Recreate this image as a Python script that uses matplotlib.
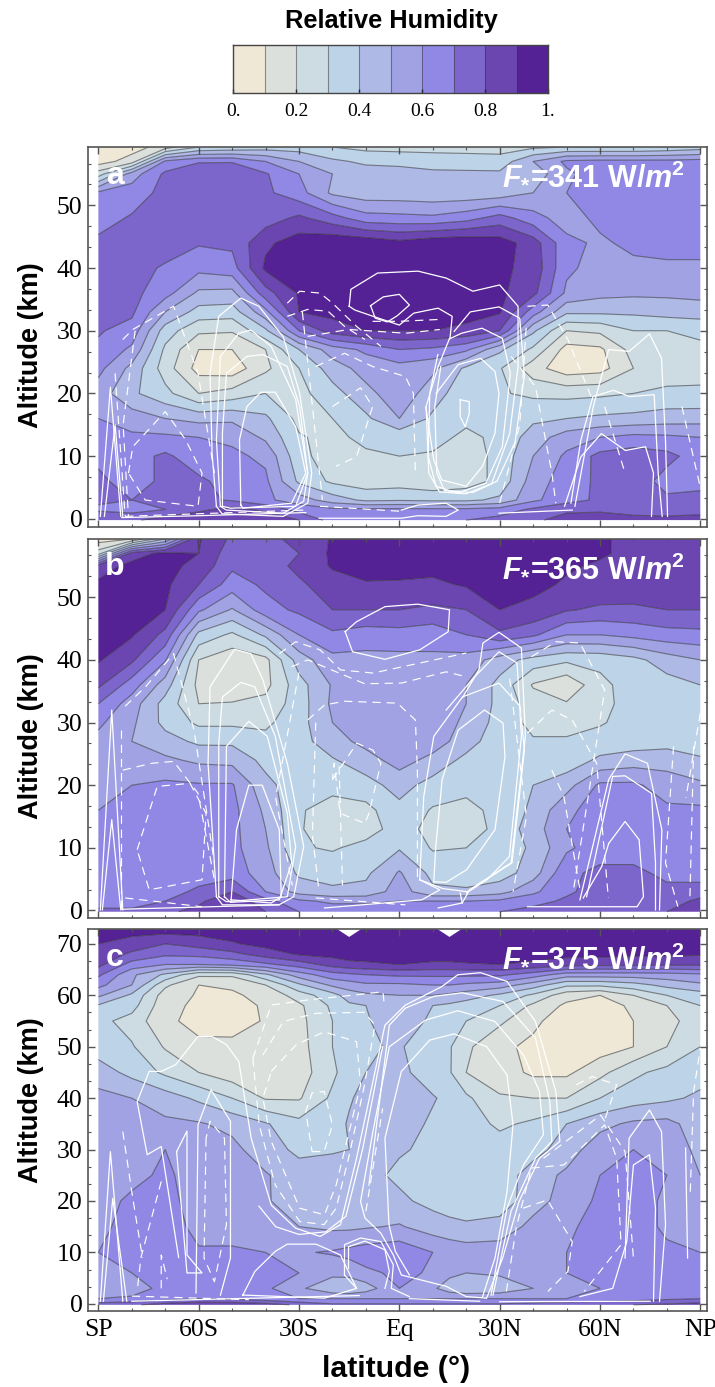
import numpy as np
import matplotlib
matplotlib.use("Agg")
import matplotlib.pyplot as plt
from matplotlib.colors import ListedColormap, BoundaryNorm

plt.rcParams['mathtext.fontset'] = 'custom'
plt.rcParams['mathtext.bfit'] = 'Liberation Sans:italic:bold'
plt.rcParams['mathtext.bf'] = 'Liberation Sans:bold'
plt.rcParams['mathtext.rm'] = 'Liberation Sans:bold'

LEVELS = [0, .1, .2, .3, .4, .5, .6, .7, .8, .9, 1.0]
COLORS = ['#F0E8D6', '#DCE0DD', '#CDDCE3', '#BDD3E8', '#AFB9E6', '#A0A2E4', '#9088E4', '#7C66CC', '#6B46B0', '#552295']
CBAR_TICKS = [0, .2, .4, .6, .8, 1.0]
CBAR_LABELS = ['0.', '0.2', '0.4', '0.6', '0.8', '1.']
XTICKS = [-90, -60, -30, 0, 30, 60, 90]
XLABELS = ['SP', '60S', '30S', 'Eq', '30N', '60N', 'NP']
TITLES = ['341', '365', '375']
LETTERS = ['a', 'b', 'c']

LAT = [-90, -80, -70, -60, -50, -40, -30, -20, -10, 0, 10, 20, 30, 40, 50, 60, 70, 80, 90]
LAT_C = [-90, -80, -70, -60, -50, -40, -30, -20, -15, -10, 0, 10, 15, 20, 30, 40, 50, 60, 70, 80, 90]
ALT_A = [59.3, 57, 55, 52, 48, 44, 40, 36, 33, 30, 27, 24, 20, 16, 13, 10, 6, 3, 1.5, -0.2]
HUM_A = [
 [5,5,15,30,32,35,35,30,27,26,26,26,26,28,30,30,30,32,35],
 [5,15,62,69,69,60,50,42,38,38,36,35,34,50,62,63,63,63,64],
 [25,55,72,78,80,71,60,50,45,43,42,42,42,44,58,65,65,65,65],
 [62,65,73,76,75,72,64,48,44,44,43,43,44,50,60,64,65,65,65],
 [66,71,75,76,76,75,82,74,64,63,62,66,74,64,55,63,65,66,66],
 [72,73,74,71,72,88,95,98,97,93,97,98,95,85,63,58,63,64,64],
 [74,73,69,63,66,92,93,93,93,93,92,92,92,87,62,56,57,58,58],
 [78,73,64,48,47,76,91,93,93,93,93,92,92,83,58,53,52,52,53],
 [79,72,50,36,35,57,90,93,93,93,93,93,91,65,42,42,42,44,45],
 [71,66,35,22,21,38,70,85,90,90,90,88,80,42,20,22,30,30,32],
 [68,58,28,10,10,20,40,55,62,70,68,62,42,28,6,8,24,27,28],
 [63,47,25,6,4,18,30,45,54,56,52,38,31,14,4,6,20,25,28],
 [55,42,33,20,24,30,27,36,47,56,45,33,31,28,27,28,30,32,31],
 [60,55,50,47,48,42,27,30,38,50,38,32,32,38,40,42,43,45,46],
 [68,62,62,60,58,48,31,27,33,33,33,28,32,45,55,60,63,62,60],
 [68,66,72,64,62,58,33,25,28,30,29,25,33,50,62,73,76,73,65],
 [72,66,72,72,66,62,38,28,24,25,22,25,33,55,65,72,76,66,68],
 [72,70,72,72,69,62,55,45,38,39,38,38,42,58,66,72,74,72,72],
 [68,66,70,78,83,78,66,62,62,62,62,62,64,72,78,78,74,72,72],
 [80,78,85,87,88,86,80,66,66,66,66,70,74,78,84,86,85,85,88],
]
ALT_B = [59.3, 57, 55, 52, 48, 44, 40, 36, 33, 30, 27, 24, 20, 16, 13, 10, 6, 3, 1.5, -0.2]
HUM_B = [
 [5,10,40,91,78,78,82,91,93,93,93,93,93,92,91,91,88,85,85],
 [25,85,93,90,74,75,80,92,94,94,94,94,94,93,92,91,88,86,86],
 [85,93,93,87,72,74,83,91,94,93,93,92,93,93,91,89,88,86,85],
 [92,94,92,80,65,72,78,86,89,89,88,91,93,92,89,88,87,85,84],
 [93,93,90,62,49,66,72,80,80,80,78,80,90,88,81,78,78,80,80],
 [92,91,77,37,28,42,60,68,65,66,64,70,78,72,60,60,63,66,67],
 [91,82,61,20,13,17,45,57,57,57,58,56,45,36,32,33,37,45,50],
 [82,65,45,17,10,17,36,51,54,53,56,50,37,19,12,27,35,36,40],
 [70,55,36,20,21,23,35,52,55,55,55,50,37,25,21,27,34,35,36],
 [62,52,37,28,28,28,36,50,55,56,56,48,36,27,27,29,34,35,35],
 [57,50,44,38,38,33,36,46,53,55,55,45,33,31,31,34,35,36,36],
 [55,52,52,48,47,37,36,39,46,54,47,37,35,33,34,42,45,46,41],
 [58,60,62,61,61,43,34,33,36,44,36,33,35,40,46,62,62,55,52],
 [60,62,63,63,63,48,31,26,27,37,29,27,33,42,58,64,66,62,62],
 [62,63,63,63,63,50,31,24,26,34,27,25,33,45,60,65,66,64,64],
 [64,63,64,63,63,52,31,29,33,39,29,30,33,42,58,66,66,66,62],
 [64,63,65,65,65,55,38,36,38,51,37,33,35,45,68,72,72,68,64],
 [62,62,66,72,80,60,46,42,43,55,42,42,46,58,68,75,72,72,76],
 [66,66,70,78,88,74,62,58,58,60,60,60,62,66,72,78,74,76,82],
 [72,72,78,83,85,80,70,66,66,66,68,68,70,74,76,78,78,80,85],
]
ALT_C = [72.9, 70, 68, 66, 64, 62, 60, 58, 55, 50, 45, 40, 35, 30, 25, 20, 15, 10, 6, 3, 1, -0.2]
HUM_C = [
 [93,94,95,95,95,95,95,97,108,97,95,97,108,97,96,95,95,95,95,95,95],
 [90,86,80,84,89,93,95,96,93,96,95,96,93,96,96,96,96,96,96,96,96],
 [87,78,72,73,77,85,91,93,95,95,95,95,95,95,95,94,93,93,92,92,91],
 [83,66,60,60,63,68,75,84,87,88,90,88,88,89,90,88,84,83,83,82,82],
 [72,52,38,22,22,38,55,66,68,70,72,72,72,72,72,65,55,55,55,56,58],
 [63,50,22,10,11,20,38,52,55,58,58,60,60,58,55,45,32,32,36,43,48],
 [52,38,15,9,9,12,25,36,45,48,50,50,48,45,38,28,14,10,20,30,35],
 [39,34,13,8,7,11,18,32,38,40,41,40,38,35,30,18,8,5,12,20,30],
 [33,26,12,7,5,11,17,30,36,39,46,38,36,30,22,12,5,5,10,17,25],
 [35,31,19,12,13,13,16,30,35,39,41,34,31,22,12,8,5,5,10,20,30],
 [45,37,28,20,14,11,15,28,35,40,43,34,31,20,15,8,8,17,28,33,36],
 [53,50,45,38,30,19,19,32,39,43,45,41,37,32,21,20,20,30,35,38,42],
 [54,53,52,51,47,41,33,36,41,44,46,38,36,35,28,32,40,47,52,53,45],
 [57,56,60,55,53,44,38,39,40,47,41,38,36,35,35,36,45,56,60,57,47],
 [55,57,62,55,53,51,44,45,46,43,38,36,34,33,34,45,52,60,62,60,50],
 [56,62,63,56,54,51,45,45,46,47,42,37,35,33,34,46,54,62,65,58,53],
 [58,63,65,57,54,52,50,48,48,49,51,45,43,42,44,53,58,64,65,58,55],
 [60,66,67,61,62,60,59,61,63,65,67,60,57,55,55,57,60,66,65,62,60],
 [60,60,66,67,66,65,60,53,54,58,62,59,53,50,52,60,60,64,65,63,62],
 [55,54,64,66,65,62,52,42,40,45,60,52,44,40,42,50,56,60,62,62,62],
 [60,62,65,70,68,64,60,60,60,60,60,60,60,60,60,60,60,62,65,68,70],
 [75,78,85,88,88,85,78,72,72,72,72,72,72,72,72,75,78,80,80,82,85],
]

A_SOLID = [
 [(-54.7,2),(-56,10.5),(-56.6,23.2),(-54,32.3),(-47.4,35.2),(-42,33.9),(-34.7,29),(-29.8,20),(-26.2,7.3),(-27.4,2.5),(-34.7,.4),(-53,.8),(-54.7,2)],
 [(-53.5,2),(-54.7,12.6),(-53.5,25.9),(-48,29.6),(-44.4,30.1),(-38.3,27.5),(-31,19),(-27.4,7.3),(-28.6,2.8),(-34.7,.9),(-51.7,1.4),(-53.5,2)],
 [(-52.9,2),(-52.9,13.7),(-51.7,23.2),(-45.6,25.9),(-40.8,26.2),(-33.5,24.3),(-29.8,17.9),(-27.4,7.3),(-31,2),(-50.5,1.7),(-52.9,2)],
 [(-47.4,2.2),(-47.8,12.6),(-45.6,17.9),(-41.4,20.2),(-37.1,20.2),(-31,14.7),(-28,7.3),(-32.2,2.5),(-46.8,1.7),(-47.4,2.2)],
 [(-15,33.9),(-14.5,36.6),(-6.5,39.2),(5.6,39.5),(14,38.4),(22,36.3),(30,37.3),(35.5,33.9),(35.5,24.3),(33,13.6),(27.6,5.6),(20,4),(12,4.3),(8.8,7.3),(8,17.9),(11.6,24.3),(15.2,29),(15.8,32.3),(11.6,33.6),(4.3,32.8),(0,30.9),(-7.3,32.2),(-13.3,33.3),(-15,33.9)],
 [(-8.6,34),(-4.8,35.4),(0,35.8),(3,34.1),(-0.6,32.4),(-3.6,31.4),(-7.2,32),(-8.6,34)],
 [(18.2,19),(20.9,18.7),(20.9,16.8),(19.7,14.7),(18.2,16.3),(18.2,19)],
 [(16.4,29.9),(21.2,33),(29.8,33.8),(36,32),(37.4,22.9),(34.6,12.2),(29.2,6),(22,4.2),(13.5,4.5),(11.2,7.3),(10.6,17.9),(12.4,24.3)],
 [(15,28.7),(18.6,29.6),(24.7,30.4),(30.8,28.8),(33.2,23.2),(30.8,11.5),(25.9,5.7),(17.4,4.1),(11,5.2),(8.6,10),(9.1,20),(11.5,26.2)],
 [(11,20),(17.6,24.6),(24.3,25.6),(28.6,23.5),(29.8,20),(28.6,13.7),(24.9,8.4),(20,5.2),(12.7,6.2),(10.3,9.4),(7.9,17.9)],
 [(0.6,1.4),(5.5,2.2),(14,2.5),(17.6,1.4),(14,.4),(5.5,.5),(0.6,.1),(-24,.1)],
 [(52.5,2),(58,17.9),(62.6,27),(68.7,26.7),(74.8,29.5),(78.4,25.6),(79.6,12.3),(80.2,.4)],
 [(51.3,2.5),(54.3,12.6),(57.9,19.5),(64,20.5),(68.9,19.5),(76.2,19.8),(77.4,7.3),(78.6,.4)],
 [(49.4,2),(54.3,9.9),(60.4,13.6),(67.6,10.9),(73.6,11.5),(76,7.3),(75.4,.4)],
 [(29.8,.9),(51.7,1.4)],
 [(-89.4,.4),(-86.4,21),(-83.3,.4)],
 [(-88.2,.4),(-85,15),(-82.7,.4)],
 [(-83,.2),(-60,.5),(-28,1)],
]
A_DASHED = [
 [(-82.7,28.6),(-79.7,30.2),(-67.5,33.9),(-60.2,23.2),(-55.3,7.3)],
 [(-81,7.3),(-79.7,11.5),(-70,17.1),(-63.9,12.6),(-59,7.3),(-60.2,2),(-76,3),(-81,7.3)],
 [(-33.5,34.4),(-29.8,36.3),(-23.7,36),(-20,34.4),(-12.8,30.7),(-5.5,27.5)],
 [(-33.5,32.3),(-27.4,33.4),(-21.3,33.1),(-16.4,30.7),(-10.3,28.6)],
 [(-27.4,29.1),(-15.2,30.2),(2,29.6),(12.1,30.2)],
 [(-8,31.5),(0,31.5),(12,31.8)],
 [(-25,24.3),(-16.4,26.4),(-8,24.3),(1.8,22.7),(4.2,20),(4.8,7.3)],
 [(-20,17.9),(-11.6,20.9),(-8,17.9),(-12.8,9.9),(-18.9,8.4)],
 [(38.3,33.9),(44.4,34.1),(50.4,28.6),(57.7,19)],
 [(33.4,25.9),(40.7,21.1),(45.6,7.3),(46.8,2.5)],
 [(84.5,17.9),(90,5)],
 [(61.4,17.9),(67.5,7.3)],
 [(-85,23.2),(-82,.4)],
 [(-79,30),(-82.6,15),(-81,.3)],
 [(-82,.4),(-28.6,1.4)],
 [(-23.7,2),(.6,1.2)],
 [(-29,33),(-26,18),(-23,3)],
 [(30,2.5),(36,15),(38,31)],
]
B_SOLID = [
 [(-16.2,44.5),(-12.8,46.1),(-4.3,48.5),(5.5,48.9),(15,48),(14.6,44.5),(6.1,41.6),(-4.3,40.1),(-14,41.3),(-16.2,44.5)],
 [(-54.7,2.2),(-57.2,23.5),(-56.6,35.7),(-49.3,41.7),(-44.4,41),(-40.8,36.8),(-33.5,23.5),(-28.6,10.2),(-31.6,2.2),(-36,.9),(-52.9,.9),(-54.7,2.2)],
 [(-54,2.2),(-54,26.7),(-52.9,34.1),(-47.4,36.4),(-43.2,35.7),(-37.1,27.8),(-31,10.2),(-33.5,2.2),(-51.7,1.4),(-54,2.2)],
 [(-52.3,2.2),(-51.7,26.2),(-45,30.2),(-39.5,27.8),(-33.5,15.5),(-32.2,7.6),(-35.9,1.7),(-50.5,1.3),(-52.3,2.2)],
 [(-50.3,1.7),(-48.7,12.9),(-45,20),(-41,20),(-35.9,12.9),(-35.3,2.2),(-38.3,1.2),(-50.3,1.7)],
 [(6.1,4.9),(7.3,18.2),(10.3,27.8),(18.9,34.1),(29.8,36.3),(36.1,32.6),(37.4,25.6),(33.7,7.6),(20.3,3),(13,3.5),(6.1,4.9)],
 [(18.9,34),(23.8,38.4),(25,42.7),(29.8,44.4),(36.5,41.9),(37.7,27.8),(33.4,7.6),(21,3.3),(18.8,1.2)],
 [(14,32),(22,37),(29.8,41.3),(35.2,39.5),(36.5,27.8),(32.9,8.6),(26.2,4.9),(20.1,2.8)],
 [(10.3,4.6),(10.9,10.2),(12.8,20.9),(17.6,28.8),(25.5,32),(31,29.9),(31.6,24.6),(28.6,12.9),(20.1,6.5),(14,4.5),(10.3,4.6)],
 [(6.1,4.9),(12.1,3.3),(6.7,1.7),(-22.4,.4)],
 [(18.2,2.8),(18.8,1.2),(11.6,.4)],
 [(54,1.7),(62.6,20.9),(67.5,25),(74.2,23.5),(78.5,12.9),(77.8,.1)],
 [(56,2.2),(63.8,21.4),(67.5,21.5),(75.4,18.7),(76.6,7.6),(76.6,.1)],
 [(62.6,10.7),(67.5,14.2),(71.7,11.3),(73,2.2),(71.1,.6),(38.3,.6)],
 [(55,2),(60.5,7),(62.6,10.7)],
 [(-89.4,.1),(-86,32),(-82.7,.1)],
 [(-88.8,.1),(-86,14.5),(-83.3,.1)],
 [(-83,.2),(-36,.9)],
]
B_DASHED = [
 [(-82,32.6),(-75.9,35.7),(-67.5,41),(-61.4,28.8),(-55.3,7.6)],
 [(-82.7,22.4),(-74,23.5),(-67.5,23.8),(-60.2,18.7),(-55.3,4.9)],
 [(-78.4,9.7),(-72.4,19.8),(-62.6,20.3),(-57.8,15.5),(-59,4.9),(-74.8,3.3),(-78.4,9.7)],
 [(-35.9,41),(-31,42.9),(-23.7,41.6),(-17.6,38.4),(-7.9,37.9),(7.9,39.7),(20,41.1)],
 [(-32.2,38.9),(-27.4,40),(-10.4,36.2),(.6,36.3),(14,38.1),(20,37.3)],
 [(-27.4,30.4),(-22.4,32.8),(-16.4,33.4),(-.6,33.1),(4.8,30.4),(5.4,22.4),(5.4,4.9)],
 [(-20,20.9),(-12.7,26.7),(-7.9,25.6),(-5.5,23.5),(-9.1,15.5),(-10.3,13.9),(-17.7,15.5),(-19.5,23.5),(-20,20.9)],
 [(39.5,40.5),(46.8,42.9),(54,42.7),(61.4,35.2),(57,20),(52,3)],
 [(38.3,28.3),(45.6,32),(51.7,30.4),(59,23.5),(62.5,2)],
 [(45.6,22.4),(49.2,18.2),(54,3.3)],
 [(82,26.2),(79.6,7.6),(83.3,.6)],
 [(88,26.2),(86.9,2.2)],
 [(90,31.5),(85.7,18)],
 [(-82,2),(-59,.6)],
 [(-25,2),(1.8,.9)],
 [(-83.3,28.8),(-83.3,.1)],
 [(-30,38),(-37,18),(-32,4)],
 [(-25,30),(-26,12),(-24,3)],
 [(-18,23),(-17,4)],
 [(33,37),(38,15),(34,3)],
]
C_SOLID = [
 [(-46.8,1.7),(-43.2,6.3),(-37.1,10.2),(-33.5,11.6),(-24.9,11.6),(-17.6,9.5),(-12.8,3),(-22.4,1.1),(-46.8,1.7)],
 [(-66.6,29.6),(-63.5,33.6),(-63.5,9.5),(-59,6),(-63.5,6),(-66.6,29.6)],
 [(-60.8,2.1),(-60.2,34.8),(-56.3,41.6),(-50.5,35.5),(-50.5,8.9),(-53.5,1.7)],
 [(-66,9),(-71.2,30.6),(-75.4,29),(-78.4,39.3),(-74.8,45.2),(-71.2,45.2),(-66.9,46.5),(-60.2,52),(-56,52),(-51.7,50.4),(-48,47.1),(-44.3,32.2),(-38.3,19.2),(-31,14.7),(-23.7,13.1),(-17.6,15.4),(-12.8,28.3),(-4.3,54.2),(1.8,58.1),(12.7,61.7),(17.5,64),(24.3,64.4),(32.2,62.7),(40.7,54.9),(46.8,41.3),(48,31.6),(41.9,28.3),(35.8,19.9),(30.9,8.9),(26.1,1.1)],
 [(3,5.6),(-1.2,10.2),(-3.1,15.4),(-4.3,32.2),(.6,45.2),(9.1,51.3),(16.4,52.5),(26.1,50),(32.2,44.5),(34,34.8),(32.2,21.8),(28.6,8.9),(24.9,1.4)],
 [(26,1.1),(20,1.4),(14,3.4),(.6,5.6),(-1.8,9.5),(-5.5,13.7),(-10.3,16.7),(-11.6,19.9),(-7.9,33.5),(-3,50),(7.9,55.2),(17.5,57),(28.6,54.9),(37.1,48.4),(41.9,41.3),(43.1,32.9),(37.1,27),(32.2,18.6),(27.4,1.7)],
 [(-9.1,23.1),(-3,54.2),(1.8,57.5),(10.3,59.8),(18.8,60.5),(31,58.8),(40.7,51.7),(45,39.3),(45.6,31.6),(40.7,28.3),(33.4,18),(28,1.7)],
 [(-16.4,5.6),(-16.4,11.5),(-11.6,12.8),(-5.5,12.1),(-1.8,7.6),(-2.4,3),(3,1.4)],
 [(-15.2,6.9),(-15.2,11.1),(-10.3,12.2),(-4.3,10.5),(-3,6.3),(-4.3,3)],
 [(-12.8,3),(-16.4,5.6)],
 [(-42,19),(-37,15),(-30,13.5),(-22,14),(-16,17),(-11,30),(-5,50)],
 [(-89.4,.5),(-86.4,29.6),(-82.7,.5)],
 [(-88.5,.5),(-85.7,20.5),(-81.5,.5)],
 [(54,1.4),(63.8,3),(68,12.1),(70,27),(74.8,29),(76.6,18.6),(76,.5)],
 [(67.5,8.9),(68.7,32.2),(74.8,37.7),(78.4,33.5),(79.6,15.4),(77.8,.5)],
 [(85.6,30.3),(86.2,8.9)],
 [(-80,.5),(-12,1.6)],
 [(3,1),(24,.5)],
 [(30,.4),(75,.5)],
]
C_DASHED = [
 [(-43.8,47.8),(-38.3,58.1),(-27.4,59.1),(-12.8,60.1),(-4.9,60.7),(-4.5,58.1)],
 [(-43.8,47.8),(-41.9,34.8),(-37.1,23.1)],
 [(-40.8,48.4),(-34.7,54.9),(-25,56.5),(-10.4,56.7),(-7.3,54.2),(-10.4,42.6),(-15.2,28.3),(-18.9,18.6),(-22.5,15.4),(-29.8,16),(-37.1,23.1)],
 [(-38.3,45.2),(-30.8,50.4),(-22.5,52.9),(-12.8,51),(-11.6,42.6),(-18.9,23.1),(-22.4,17.3),(-29.8,18.6),(-38.3,31.6),(-40.8,40),(-38.3,45.2)],
 [(-26.1,29.6),(-22.5,29.6),(-20,34.8),(-22.5,41.3),(-26.1,41),(-28,37.4),(-26.1,29.6)],
 [(-82.7,33.5),(-79.7,20.5),(-76.8,8.9)],
 [(-71.2,23.8),(-77.3,8.9),(-78.4,2.4)],
 [(-57.8,32.2),(-58.4,8.9),(-55.3,4.3),(-51.7,15.4),(-52.3,32.2),(-56.6,35.5),(-57.8,32.2)],
 [(-71.2,3),(-71.2,9.5),(-69.4,4.8)],
 [(52.9,42.6),(57.7,44.2),(65,42.6),(61,35)],
 [(43.1,28.3),(60.2,36.7),(67.5,29.6),(70,8.9)],
 [(39.5,26.4),(49.2,27),(61.4,34.8),(65,28.3),(66.3,11.5),(55.3,2.4)],
 [(37,18.6),(44.3,20.2),(51.7,12.1),(50.4,6.3),(44.4,2.4)],
 [(87,21.8),(88,41.3),(90,49.7)],
 [(32,2.4),(35,15),(39.5,26.4)],
 [(-80,1.5),(-45,.8)],
 [(-10,18),(-5,38)],
]

FIG_W, FIG_H = 715, 1387
fig = plt.figure(figsize=(FIG_W / 100, FIG_H / 100), dpi=100)
fig.patch.set_facecolor('white')
cmap = ListedColormap(COLORS)
norm = BoundaryNorm(LEVELS, cmap.N)
SERIF = 'Liberation Serif'
SANS = 'Liberation Sans'
FRAME = '#555555'


def rect(x0, y0, x1, y1):
    return [x0 / FIG_W, 1 - y1 / FIG_H, (x1 - x0) / FIG_W, (y1 - y0) / FIG_H]


def panel(box, lat, alt, hum, solid, dashed, ylim, yticks, ytop, title, letter, xlab, ylab_y):
    ax = fig.add_axes(rect(*box))
    a = np.array(alt)[::-1]
    h = np.array(hum, float)[::-1] / 100
    ax.contourf(lat, a, h, levels=LEVELS, cmap=cmap, norm=norm, antialiased=True)
    ax.contour(lat, a, h, levels=LEVELS[1:-1], colors='#2a2a2a', linewidths=0.8, alpha=0.55)
    for line in solid:
        xs, ys = zip(*line)
        ax.plot(xs, ys, color='white', lw=0.9, solid_joinstyle='round')
    for line in dashed:
        xs, ys = zip(*line)
        ax.plot(xs, ys, color='white', lw=0.85, ls=(0, (7, 5)))
    ax.set_xlim(-93.1, 92)
    ax.set_ylim(*ylim)
    ax.set_xticks(XTICKS)
    ax.set_xticks(np.arange(-90, 91, 10), minor=True)
    ax.set_xticklabels(XLABELS if xlab else [])
    ax.set_yticks(yticks)
    ax.set_yticks(ytop, minor=True)
    ax.tick_params(axis='both', which='major', direction='in', length=5, width=1, color=FRAME,
                   top=True, right=True, labelsize=18.5, pad=4)
    ax.tick_params(axis='both', which='minor', direction='in', length=2.5, width=0.8, color=FRAME,
                   top=True, right=True)
    ax.tick_params(axis='x', which='major', pad=6)
    for lab in ax.get_xticklabels() + ax.get_yticklabels():
        lab.set_family(SERIF)
    for s in ax.spines.values():
        s.set_color(FRAME)
        s.set_linewidth(1.2)
    ax.set_ylabel('Altitude (km)', fontfamily=SANS, fontweight='bold', fontsize=19.5)
    ax.yaxis.set_label_coords(-0.071, ylab_y)
    ax.text(0.043, 0.925, letter, transform=ax.transAxes, color='white', family=SANS, weight='bold',
            fontsize=23, ha='center', va='center')
    ax.text(0.964, 0.925, r'$\mathbfit{F}_{*}$=' + title + r' W/$\mathbfit{m}^{2}$', transform=ax.transAxes,
            color='white', family=SANS, weight='bold', fontsize=22, ha='right', va='center')
    return ax


panel((88, 147, 707, 527), LAT, ALT_A, HUM_A, A_SOLID, A_DASHED, (-1.3, 59.3), range(0, 51, 10),
      np.arange(0, 60, 10 / 3), TITLES[0], LETTERS[0], False, 0.479)
panel((88, 539, 707, 918), LAT, ALT_B, HUM_B, B_SOLID, B_DASHED, (-1.2, 59.3), range(0, 51, 10),
      np.arange(0, 60, 10 / 3), TITLES[1], LETTERS[1], False, 0.48)
panel((88, 929, 707, 1311), LAT_C, ALT_C, HUM_C, C_SOLID, C_DASHED, (-1.4, 72.9), range(0, 71, 10),
      np.arange(0, 73, 10 / 3), TITLES[2], LETTERS[2], True, 0.552)
fig.text(396 / FIG_W, 1 - 1369 / FIG_H, 'latitude (°)', family=SANS, weight='bold', fontsize=21.8,
         ha='center', va='center')

cax = fig.add_axes(rect(233, 45, 548, 93))
grid = np.array([LEVELS, LEVELS])
cax.contourf(LEVELS, [0, 1], grid, levels=LEVELS, cmap=cmap, norm=norm)
for v in LEVELS[1:-1]:
    cax.axvline(v, color='#333333', lw=0.8, alpha=0.5)
cax.set_xlim(0, 1)
cax.set_ylim(0, 1)
cax.set_yticks([])
cax.set_xticks(CBAR_TICKS)
cax.set_xticklabels(CBAR_LABELS, family=SERIF, fontsize=14)
cax.tick_params(axis='x', direction='in', length=3, width=1, color='#222222', pad=7)
for s in cax.spines.values():
    s.set_color('#444444')
    s.set_linewidth(1)
fig.text(391 / FIG_W, 1 - 21 / FIG_H, 'Relative Humidity', family=SANS, weight='bold', fontsize=18.3,
         ha='center', va='center')

fig.savefig('out.png', dpi=100)
